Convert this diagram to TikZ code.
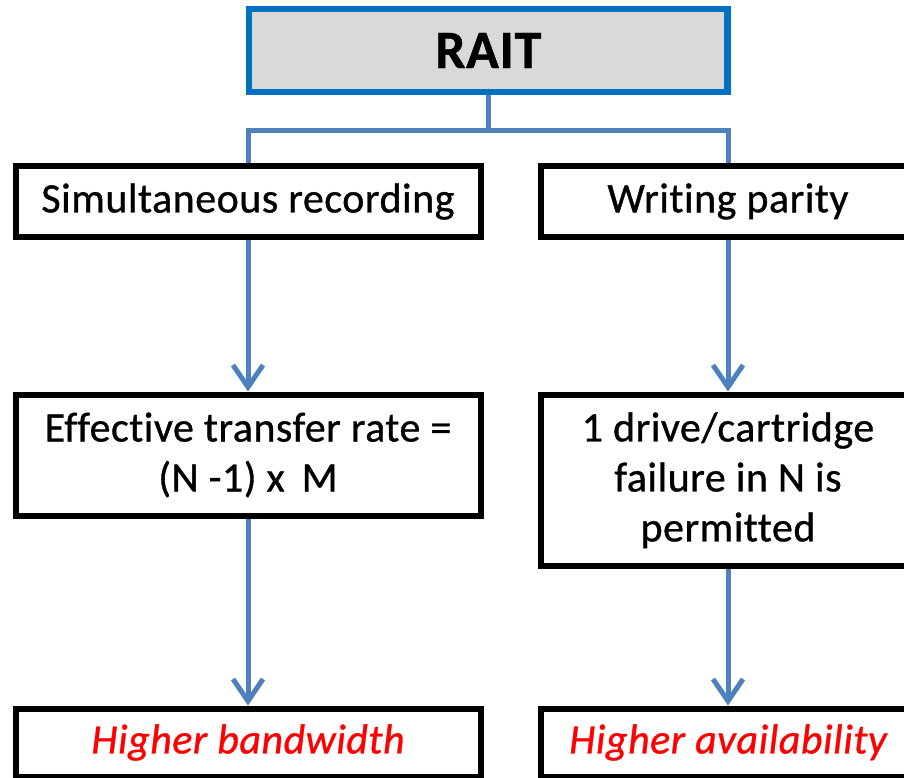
\documentclass[tikz,border=0pt]{standalone}
\usepackage{fontspec}
\setmainfont{Carlito}[LetterSpace=1.2, Ligatures=NoCommon, FakeBold=0.8]
\usetikzlibrary{arrows.meta}
\definecolor{raitblue}{HTML}{0070C0}
\definecolor{linkblue}{HTML}{4F81BD}
\definecolor{raitfill}{HTML}{D9D9D9}
\definecolor{hired}{HTML}{FF0000}
\tikzset{
  box/.style={draw=black, line width=6pt, fill=white, rectangle, inner sep=0pt,
              align=center, font=\fontsize{42}{50}\selectfont},
  topbox/.style={draw=raitblue, line width=6.5pt, fill=raitfill, rectangle, inner sep=0pt,
                 font=\fontsize{54}{60}\selectfont\bfseries},
  result/.style={box, font=\fontsize{42}{50}\selectfont\itshape, text=hired},
  link/.style={draw=linkblue, line width=5pt},
  flow/.style={link, -{Straight Barb[length=22pt,width=30pt]}}
}
\begin{document}
\begin{tikzpicture}[x=1pt,y=-1pt]
\useasboundingbox (0,0) rectangle (904,778);

% top box
\node[topbox, minimum width=478.5pt, minimum height=83pt] (rait) at (488.25,50.5) {RAIT};

% first row
\node[box, minimum width=465pt, minimum height=71pt] (sim) at (248,201.5) {Simultaneous recording};
\node[box, minimum width=373.4pt, minimum height=71pt] (par) at (728,201.5) {Writing parity};

% second row
\node[box, minimum width=465pt, minimum height=121pt] (eff) at (248,455)
  {Effective transfer rate =\\(N -1) x\, M};
\node[box, minimum width=373.4pt, minimum height=171.5pt] (fail) at (728,480.25)
  {1 drive/cartridge\\failure in N is\\permitted};

% results
\node[result, minimum width=465pt, minimum height=68pt] (bw) at (248,742.5) {Higher bandwidth};
\node[result, minimum width=373.4pt, minimum height=68pt] (av) at (728,742.5) {Higher availability};

% branch from the top box
\draw[link] (rait.south) -- ++(0,35.5) coordinate (fork);
\draw[link] (fork) -| (sim.north);
\draw[link] (fork) -| (par.north);

% downward flow
\draw[flow] (sim.south) -- (eff.north);
\draw[flow] (par.south) -- (fail.north);
\draw[flow] (eff.south) -- (bw.north);
\draw[flow] (fail.south) -- (av.north);
\end{tikzpicture}
\end{document}
